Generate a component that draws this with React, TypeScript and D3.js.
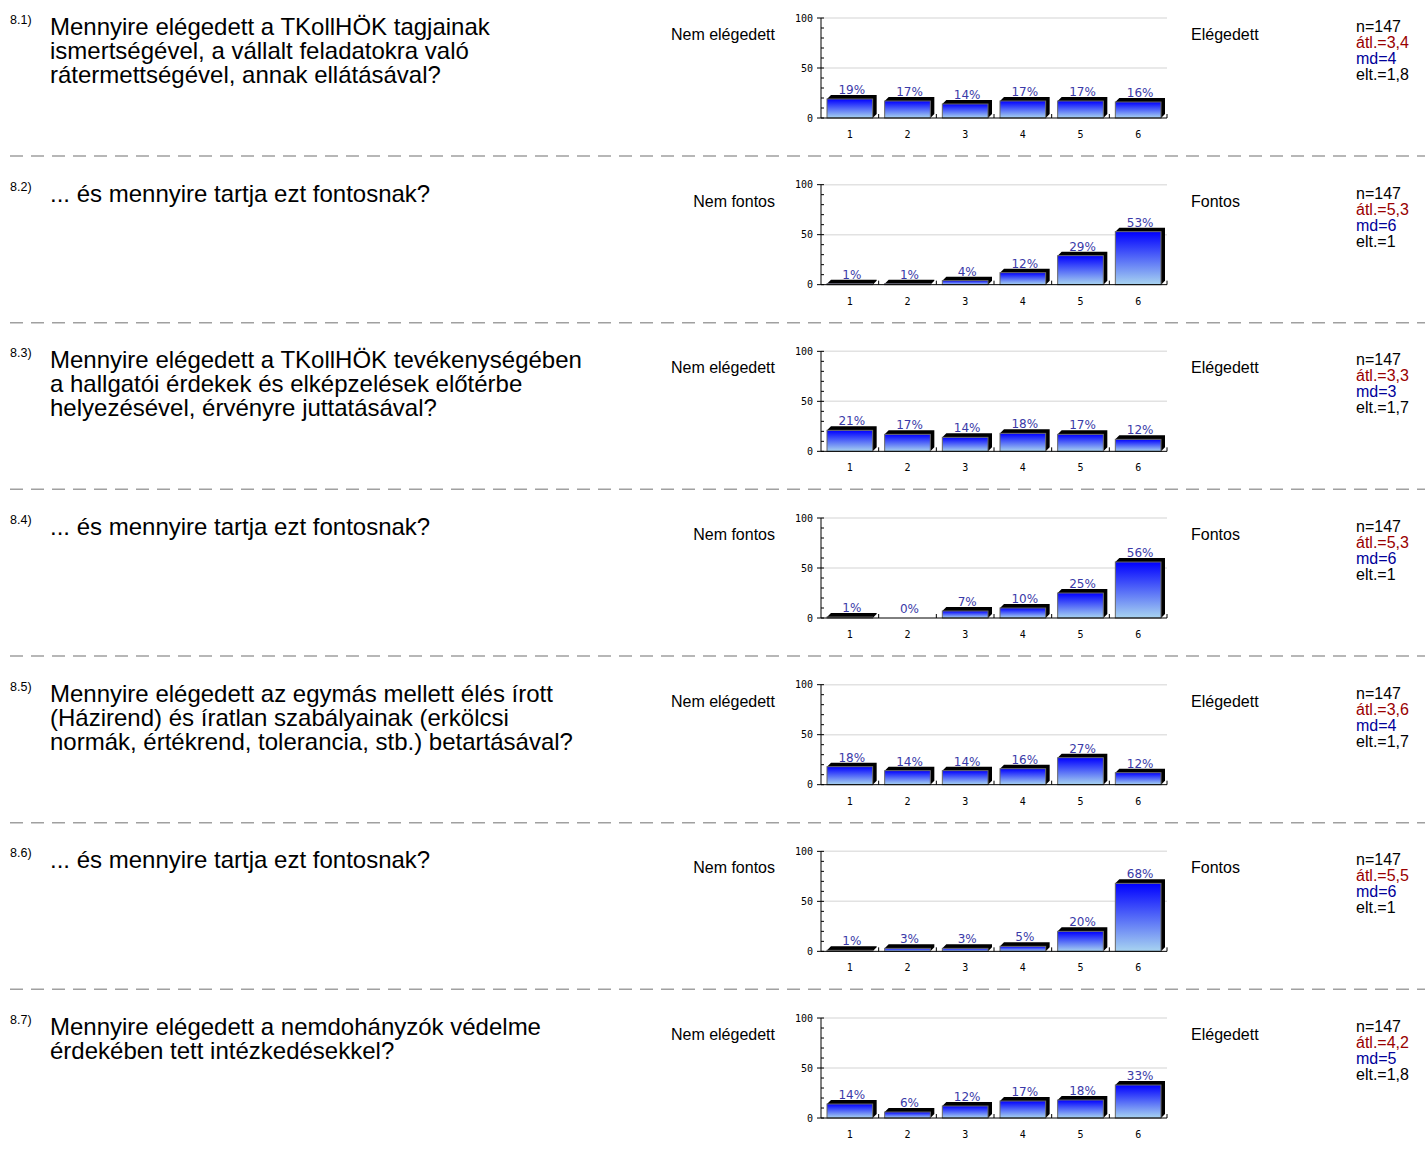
import React from "react";
import * as d3 from "d3";

const categories = ["1", "2", "3", "4", "5", "6"];
const questionNumbers = ["8.1)", "8.2)", "8.3)", "8.4)", "8.5)", "8.6)", "8.7)"];
const questionLines = [
  ["Mennyire elégedett a TKollHÖK tagjainak", "ismertségével, a vállalt feladatokra való", "rátermettségével, annak ellátásával?"],
  ["... és mennyire tartja ezt fontosnak?"],
  ["Mennyire elégedett a TKollHÖK tevékenységében", "a hallgatói érdekek és elképzelések előtérbe", "helyezésével, érvényre juttatásával?"],
  ["... és mennyire tartja ezt fontosnak?"],
  ["Mennyire elégedett az egymás mellett élés írott", "(Házirend) és íratlan szabályainak (erkölcsi", "normák, értékrend, tolerancia, stb.) betartásával?"],
  ["... és mennyire tartja ezt fontosnak?"],
  ["Mennyire elégedett a nemdohányzók védelme", "érdekében tett intézkedésekkel?"],
];
const leftLabels = ["Nem elégedett", "Nem fontos", "Nem elégedett", "Nem fontos", "Nem elégedett", "Nem fontos", "Nem elégedett"];
const rightLabels = ["Elégedett", "Fontos", "Elégedett", "Fontos", "Elégedett", "Fontos", "Elégedett"];
const values = [
  [19, 17, 14, 17, 17, 16],
  [1, 1, 4, 12, 29, 53],
  [21, 17, 14, 18, 17, 12],
  [1, 0, 7, 10, 25, 56],
  [18, 14, 14, 16, 27, 12],
  [1, 3, 3, 5, 20, 68],
  [14, 6, 12, 17, 18, 33],
];
const nValues = ["147", "147", "147", "147", "147", "147", "147"];
const means = ["3,4", "5,3", "3,3", "5,3", "3,6", "5,5", "4,2"];
const medians = ["4", "6", "3", "6", "4", "6", "5"];
const deviations = ["1,8", "1", "1,7", "1", "1,7", "1", "1,8"];
const yTicks = [0, 50, 100];
const yMinorTicks = [10, 20, 30, 40, 60, 70, 80, 90];

const BLOCK_H = 166.67;
const SANS = "'Liberation Sans', Arial, sans-serif";

function Block({ i }: { i: number }) {
  const oy = i * BLOCK_H;
  const y = d3.scaleLinear().domain([0, 100]).range([oy + 118, oy + 18]);
  const x = d3.scaleBand<string>().domain(categories).range([821, 1167]).padding(0);
  const bw = x.bandwidth();
  const depth = 4;
  const base = y(0);
  return (
    <g>
      <text x={10} y={oy + 24} fontSize={12.5} fontFamily={SANS} fill="#000">{questionNumbers[i]}</text>
      {questionLines[i].map((l, k) => (
        <text key={k} x={50} y={oy + 35 + k * 24} fontSize={24} fontFamily={SANS} fill="#000">{l}</text>
      ))}
      <text x={775} y={oy + 40} fontSize={16} fontFamily={SANS} textAnchor="end" fill="#000">{leftLabels[i]}</text>
      <text x={1191} y={oy + 40} fontSize={16} fontFamily={SANS} fill="#000">{rightLabels[i]}</text>
      <g fontSize={16} fontFamily={SANS}>
        <text x={1356} y={oy + 32} fill="#000">{`n=${nValues[i]}`}</text>
        <text x={1356} y={oy + 48} fill="#990000">{`átl.=${means[i]}`}</text>
        <text x={1356} y={oy + 64} fill="#000099">{`md=${medians[i]}`}</text>
        <text x={1356} y={oy + 80} fill="#000">{`elt.=${deviations[i]}`}</text>
      </g>
      {[50, 100].map((t) => (
        <line key={t} x1={821} x2={1167} y1={y(t)} y2={y(t)} stroke="#e2e2e2" strokeWidth={1.5} />
      ))}
      {values[i].map((v, k) => {
        const x0 = (x(categories[k]) as number) + 6;
        const x1 = (x(categories[k]) as number) + bw - 6;
        const top = y(v);
        const label = (
          <text key={"l" + k} x={(x0 + x1) / 2 + 2} y={top - depth - 1} fontSize={12} fontFamily="'DejaVu Sans', sans-serif" textAnchor="middle" fill="#3a3aa8">{v + "%"}</text>
        );
        if (v === 0) return <g key={k}>{label}</g>;
        return (
          <g key={k}>
            <polygon points={`${x0},${top} ${x0 + depth},${top - depth} ${x1 + depth},${top - depth} ${x1 + depth},${base - depth} ${x1},${base} ${x1},${top}`} fill="#000" />
            <rect x={x0} y={top} width={x1 - x0} height={base - top} fill="url(#barGrad)" stroke="#666" strokeWidth={1} />
            {label}
          </g>
        );
      })}
      <line x1={821} x2={821} y1={y(100)} y2={y(0)} stroke="#000" strokeWidth={1} />
      {yMinorTicks.map((t) => (
        <line key={t} x1={821} x2={824} y1={y(t)} y2={y(t)} stroke="#000" strokeWidth={1} />
      ))}
      {yTicks.map((t) => (
        <g key={t}>
          <line x1={817} x2={824} y1={y(t)} y2={y(t)} stroke="#000" strokeWidth={1} />
          <text x={813} y={y(t) + 3.5} fontSize={10} fontFamily="'DejaVu Sans Mono', monospace" textAnchor="end" fill="#000">{t}</text>
        </g>
      ))}
      <line x1={821} x2={1167} y1={base} y2={base} stroke="#000" strokeWidth={1} />
      {categories.map((c) => (
        <g key={c}>
          <line x1={(x(c) as number) + bw} x2={(x(c) as number) + bw} y1={base} y2={base - 4} stroke="#000" strokeWidth={1} />
          <text x={(x(c) as number) + bw / 2} y={oy + 138} fontSize={10} fontFamily="'DejaVu Sans Mono', monospace" textAnchor="middle" fill="#000">{c}</text>
        </g>
      ))}
      {i < values.length - 1 && (
        <line x1={10} x2={1425} y1={oy + 156} y2={oy + 156} stroke="#a0a0a0" strokeWidth={1.5} strokeDasharray="13 8" />
      )}
    </g>
  );
}

export default function App() {
  return (
    <svg width={1425} height={1151} style={{ position: "absolute", left: 0, top: 0, background: "#fff" }}>
      <defs>
        <linearGradient id="barGrad" x1="0" y1="0" x2="0" y2="1">
          <stop offset="0%" stopColor="#0000ff" />
          <stop offset="100%" stopColor="#a8d4f0" />
        </linearGradient>
      </defs>
      <rect width={1425} height={1151} fill="#fff" />
      {values.map((_, i) => (
        <Block key={i} i={i} />
      ))}
    </svg>
  );
}
